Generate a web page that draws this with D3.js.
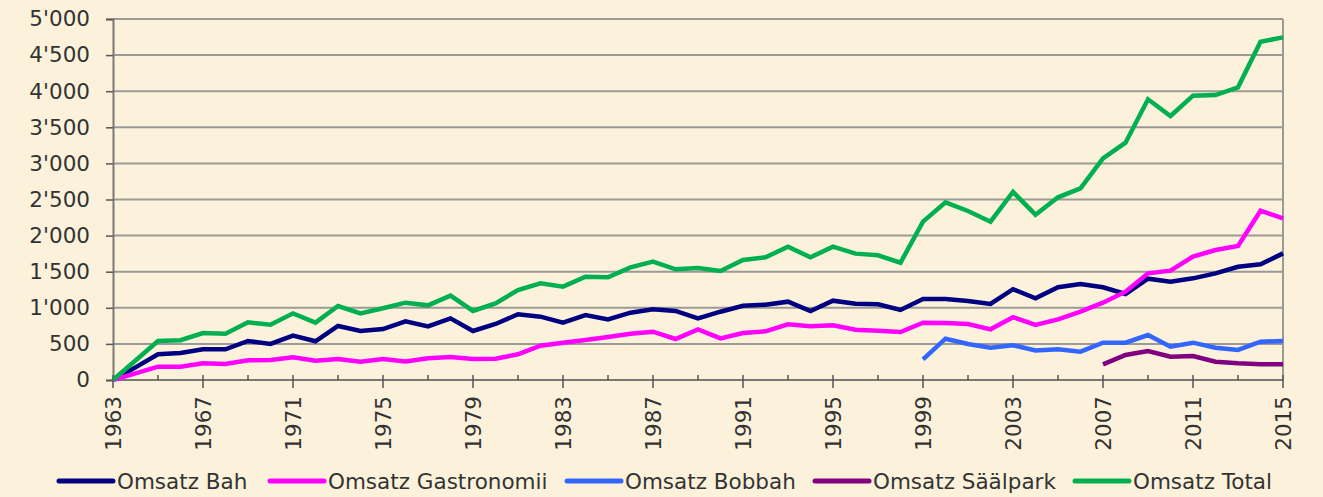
<!DOCTYPE html>
<html>
<head>
<meta charset="utf-8">
<script src="https://cdn.jsdelivr.net/npm/d3@7"></script>
<style>
  html, body { margin: 0; padding: 0; background: #fcf2dc; }
  #vis { width: 1323px; height: 497px; }
  text { font-family: "DejaVu Sans", sans-serif; fill: #333; }
</style>
</head>
<body>
<div id="vis"></div>
<script>
// data
var years = [1963, 1964, 1965, 1966, 1967, 1968, 1969, 1970, 1971, 1972,
    1973, 1974, 1975, 1976, 1977, 1978, 1979, 1980, 1981, 1982,
    1983, 1984, 1985, 1986, 1987, 1988, 1989, 1990, 1991, 1992,
    1993, 1994, 1995, 1996, 1997, 1998, 1999, 2000, 2001, 2002,
    2003, 2004, 2005, 2006, 2007, 2008, 2009, 2010, 2011, 2012,
    2013, 2014, 2015];
var bah = [0, 175, 356, 374, 425, 425, 540, 499, 614, 536,
    748, 679, 706, 813, 742, 854, 679, 776, 910, 877,
    794, 900, 840, 932, 979, 956, 854, 946, 1027, 1043,
    1085, 956, 1099, 1057, 1048, 970, 1122, 1122, 1094, 1053,
    1258, 1131, 1284, 1330, 1284, 1191, 1403, 1362, 1408, 1477,
    1569, 1602, 1754];
var gastronomii = [0, 92, 184, 184, 231, 222, 272, 277, 314, 268,
    291, 254, 291, 258, 302, 318, 291, 295, 356, 475,
    517, 554, 596, 641, 669, 568, 702, 577, 651, 674,
    771, 743, 757, 697, 683, 665, 794, 790, 776, 702,
    870, 762, 840, 946, 1071, 1223, 1477, 1514, 1708, 1800,
    1856, 2345, 2239];
var bobbahFrom = 1999;
var bobbah = [286, 572, 499, 448, 482, 408, 425, 392, 517, 517, 623, 462, 517, 448, 416, 531, 540];
var saalparkFrom = 2007;
var saalpark = [217, 346, 402, 323, 332, 254, 231, 217, 217];
var total = [0, 270, 540, 552, 651, 641, 799, 766, 923, 795,
    1025, 923, 993, 1071, 1034, 1168, 956, 1062, 1246, 1339,
    1293, 1431, 1422, 1560, 1639, 1533, 1551, 1510, 1662, 1699,
    1847, 1699, 1847, 1750, 1727, 1625, 2193, 2461, 2341, 2193,
    2604, 2290, 2530, 2655, 3070, 3287, 3888, 3656, 3938, 3947,
    4054, 4686, 4746];
var seriesNames = ['Omsatz Bah', 'Omsatz Gastronomii', 'Omsatz Bobbah', 'Omsatz Säälpark', 'Omsatz Total'];
var seriesColors = ['#000080', '#ff00ff', '#3366ff', '#800080', '#00b050'];
var yTicks = [0, 500, 1000, 1500, 2000, 2500, 3000, 3500, 4000, 4500, 5000];

var margin = {left: 113, right: 40, top: 19, bottom: 117};
var width = 1323 - margin.left - margin.right;
var height = 497 - margin.top - margin.bottom;
var fontSize = '21.5px';

var fromStart = (start, vals) => vals.map((v, i) => ({year: start + i, value: v}));
var series = [
    fromStart(years[0], bah),
    fromStart(years[0], gastronomii),
    fromStart(bobbahFrom, bobbah),
    fromStart(saalparkFrom, saalpark),
    fromStart(years[0], total)
];

var svg = d3.select('#vis')
    .append('svg')
        .attr('width', 1323)
        .attr('height', 497)
    .append('g')
        .attr('transform', 'translate(' + margin.left + ',' + margin.top + ')');

var x = d3.scaleLinear()
    .domain([years[0], years[years.length - 1]])
    .range([0, width]);
var y = d3.scaleLinear()
    .domain([0, 5000])
    .range([height, 0]);

var fmt = d3.formatLocale({decimal: '.', thousands: "'", grouping: [3], currency: ['', '']}).format(',');

// gridlines
svg.append('g')
    .selectAll('line')
    .data(yTicks.slice(1))
    .enter()
    .append('line')
        .attr('x1', 0)
        .attr('x2', width)
        .attr('y1', d => y(d))
        .attr('y2', d => y(d))
        .style('stroke', '#9c9a96')
        .style('stroke-width', 2);

// right border
svg.append('line')
    .attr('x1', width).attr('x2', width)
    .attr('y1', 0).attr('y2', height)
    .style('stroke', '#9c9a96')
    .style('stroke-width', 2);

// y axis
var yAxis = svg.append('g')
    .call(d3.axisLeft(y).tickValues(yTicks).tickFormat(fmt).tickSize(7).tickPadding(16));
yAxis.select('.domain').style('stroke', '#7a7874').style('stroke-width', 2);
yAxis.selectAll('line').style('stroke', '#555').style('stroke-width', 1.5);
yAxis.selectAll('text')
    .style('font-size', fontSize)
    .style('fill', '#333')
    .style('font-family', '"DejaVu Sans", sans-serif');

// x axis
var xg = svg.append('g').attr('transform', 'translate(0,' + height + ')');
xg.append('line')
    .attr('x1', 0).attr('x2', width)
    .style('stroke', '#7a7874')
    .style('stroke-width', 2);
var minorYears = years.filter(d => (d - years[0]) % 2 === 0);
var labelYears = years.filter(d => (d - years[0]) % 4 === 0);
xg.selectAll('line.tick')
    .data(minorYears)
    .enter()
    .append('line')
        .attr('class', 'tick')
        .attr('x1', d => x(d))
        .attr('x2', d => x(d))
        .attr('y1', -5)
        .attr('y2', d => labelYears.includes(d) ? 8 : 0)
        .style('stroke', '#555')
        .style('stroke-width', 1.5);
xg.selectAll('text')
    .data(labelYears)
    .enter()
    .append('text')
        .attr('transform', d => 'translate(' + x(d) + ',16) rotate(-90)')
        .attr('text-anchor', 'end')
        .attr('dy', '0.36em')
        .style('font-size', fontSize)
        .text(d => d);

// lines
var line = d3.line()
    .x(d => x(d.year))
    .y(d => y(d.value));

svg.append('g')
    .selectAll('path')
    .data(series)
    .enter()
    .append('path')
        .attr('d', d => line(d))
        .style('fill', 'none')
        .style('stroke', (d, i) => seriesColors[i])
        .style('stroke-width', 4.5);

// legend
var legendX = [59, 270, 567, 815, 1075];
var legend = d3.select('svg').append('g').attr('transform', 'translate(0,481)');
var item = legend.selectAll('g')
    .data(seriesNames)
    .enter()
    .append('g')
        .attr('transform', (d, i) => 'translate(' + legendX[i] + ',0)');
item.append('line')
    .attr('x1', 0).attr('x2', 54)
    .style('stroke', (d, i) => seriesColors[i])
    .style('stroke-width', 5)
    .style('stroke-linecap', 'round');
item.append('text')
    .attr('x', 58)
    .attr('dy', '0.36em')
    .style('font-size', fontSize)
    .text(d => d);
</script>
</body>
</html>
